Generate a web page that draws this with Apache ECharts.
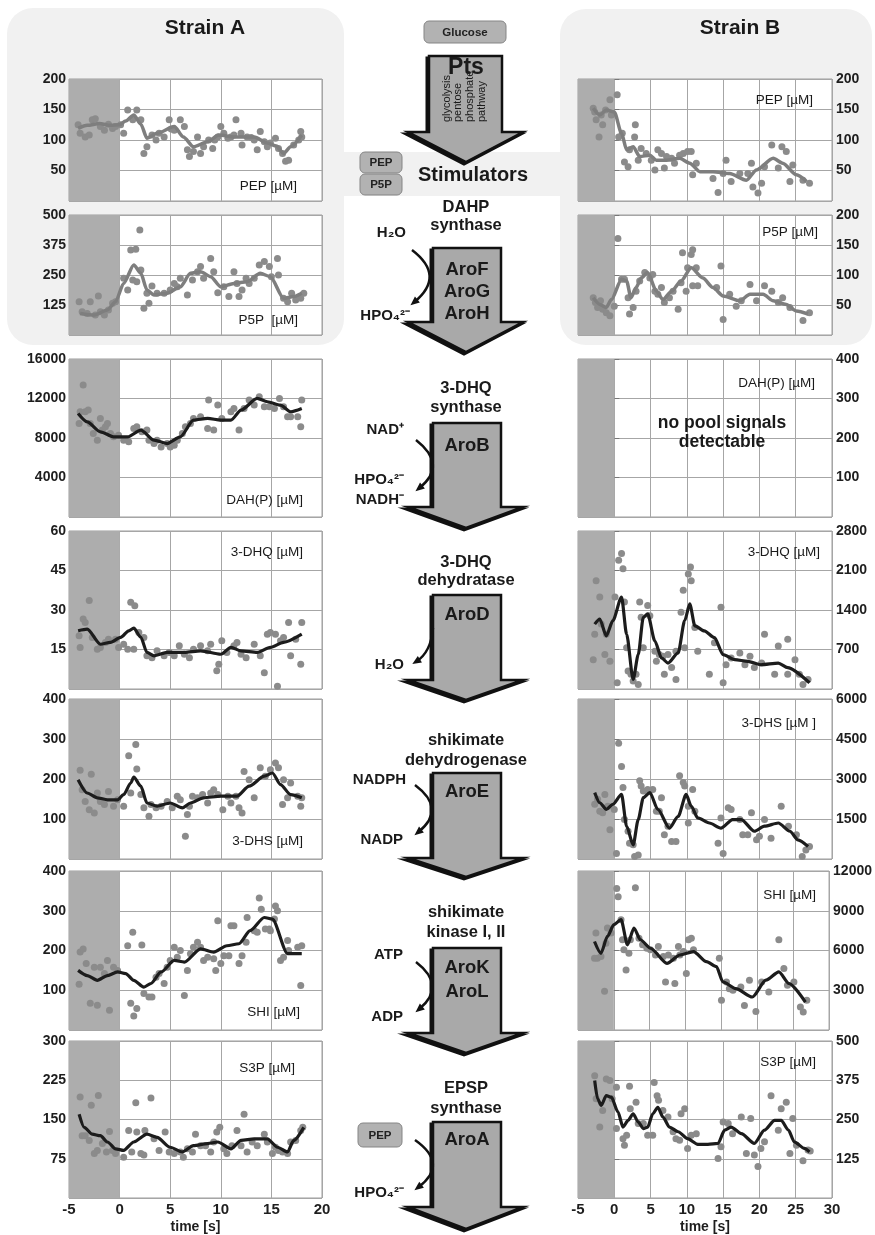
<!DOCTYPE html>
<html>
<head>
<meta charset="utf-8">
<script src="https://cdn.jsdelivr.net/npm/echarts@6/dist/echarts.min.js"></script>
<style>
  html, body { margin: 0; padding: 0; background: #fff; }
  #wrap { position: relative; width: 875px; height: 1235px; overflow: hidden; }
  .panelbg { position: absolute; background: #f1f1f1; }
  #c { position: absolute; left: 0; top: 0; width: 875px; height: 1235px; }
</style>
</head>
<body>
<div id="wrap">
  <div class="panelbg" style="left:7px;top:8px;width:337px;height:337px;border-radius:26px;"></div>
  <div class="panelbg" style="left:560px;top:9px;width:312px;height:336px;border-radius:26px;"></div>
  <div class="panelbg" style="left:340px;top:152px;width:222px;height:44px;"></div>
  <div id="c"></div>
</div>
<script>
// ---------- Strain A: measured points [time s, µM] and smoothed trends ----------
const pepA_pts = [[-4.1,125],[-3.9,111],[-3.4,105],[-3,108],[-2.7,133],[-2.4,135],[-1.9,122],[-1.5,116],[-1.1,126],[-0.7,119],[-0.4,122],[0.1,125],[0.4,111],[0.8,149],[1.3,133],[1.7,149],[2.1,133],[2.4,78],[2.7,89],[3.2,108],[3.6,100],[3.9,111],[4.4,105],[4.9,133],[5.1,118],[5.4,116],[6,133],[6.4,122],[6.7,84],[6.9,73],[7.3,81],[7.7,105],[8,78],[8.3,89],[8.8,100],[9.2,86],[9.4,100],[9.7,105],[10,122],[10.3,111],[10.7,103],[11,105],[11.3,108],[11.5,133],[12,111],[12.1,92],[12.6,105],[13,104],[13.3,100],[13.6,84],[13.9,114],[14.3,97],[14.6,89],[14.9,95],[15.4,103],[15.7,86],[16.1,78],[16.4,65],[16.7,67],[17.2,92],[17.7,100],[17.9,114],[18,105]];
const pepA_fit = [[-4.1,119],[-3.2,124],[-2,127],[-0.9,124],[0,125],[0.6,131],[1.4,141],[2.1,126],[2.7,103],[3.7,111],[5.4,122],[6.3,105],[7.3,89],[8.7,97],[9.8,108],[11.3,105],[13.3,105],[14.6,95],[15.5,90],[16.2,78],[16.9,89],[18,108]];

const p5pA_pts = [[-4,139],[-3.7,97],[-3.2,90],[-2.9,139],[-2.4,83],[-2.1,163],[-1.9,97],[-1.5,83],[-1.1,104],[-0.7,132],[-0.4,139],[0.4,236],[0.8,188],[1.1,354],[1.6,357],[2,437],[1.3,229],[1.7,222],[2.1,271],[2.4,111],[2.9,132],[2.7,174],[3.2,204],[3.7,174],[4.4,174],[5,188],[5.4,215],[5.7,201],[6,236],[6.7,167],[7.2,229],[7.7,264],[8,285],[8.3,236],[9,319],[9.3,264],[9.7,176],[10.3,201],[10.8,160],[11.3,264],[11.6,215],[11.8,160],[12.1,188],[12.5,236],[12.8,215],[13.3,236],[13.8,292],[14.3,306],[14.8,285],[15,243],[15.6,319],[15.7,250],[16.2,153],[16.6,139],[17,174],[17.4,146],[17.9,153],[18.2,174]];
const p5pA_fit = [[-3.9,90],[-2.5,83],[-1.2,104],[-0.4,139],[0.4,215],[1.4,292],[2.1,257],[2.7,188],[3.4,167],[4.7,174],[6,201],[7,257],[8,264],[9,243],[10,201],[11.3,215],[12.6,222],[13.9,257],[14.9,243],[16.2,153],[17.2,160],[18,174]];

const dahA_pts = [[-4,9470],[-3.9,10660],[-3.6,13360],[-3.4,10660],[-3.1,10830],[-2.9,9470],[-2.6,8460],[-2.2,7780],[-1.9,9980],[-1.7,8800],[-1.4,9130],[-1.2,9470],[-0.9,8460],[-0.6,8120],[-0.1,8290],[0.4,7780],[0.9,7610],[1.4,8970],[1.7,9130],[2.2,8630],[2.7,8800],[2.9,7780],[3.4,7440],[3.7,7780],[4.1,7100],[4.7,7440],[5,7100],[5.4,7270],[5.7,7780],[6.2,8460],[6.5,9130],[7,9470],[7.3,9980],[8,10150],[8.7,8970],[8.8,11840],[9.3,8800],[9.7,11330],[10.1,9980],[11,10660],[11.3,10990],[11.8,8800],[12.3,10990],[12.8,11840],[13.3,11330],[13.8,12180],[14.3,11160],[14.8,11160],[15.3,10990],[15.8,12010],[16.2,11160],[16.6,10150],[16.9,10150],[17.6,10150],[17.9,9130],[18,11840]];
const dahA_fit = [[-4.1,10490],[-3.2,9640],[-1.9,8630],[-0.6,8120],[0.8,8120],[2.1,8800],[3.4,7780],[4.7,7440],[6,8120],[7.3,9810],[8.7,9980],[10,9810],[11,9810],[12,10830],[13.6,12010],[14.6,11670],[15.9,11330],[16.9,10660],[18,10990]];

const dhqA_pts = [[-4,20.2],[-3.9,15.8],[-3.6,26.6],[-3.4,25.3],[-3,33.6],[-2.7,19.6],[-2.2,15.1],[-1.9,15.8],[-1.4,17.7],[-1.1,18.9],[-0.4,18.9],[-0.1,15.8],[0.4,17],[0.8,15.1],[1.1,32.9],[1.5,31.6],[1.4,15.1],[1.9,21.5],[2.4,19.6],[2.7,12.6],[3.2,11.9],[3.7,14.5],[4.4,12.6],[4.9,13.9],[5.4,12.6],[5.9,16.4],[6.4,13.2],[6.9,11.9],[7.3,15.1],[8,16.4],[8.7,14.5],[9,17],[9.6,6.9],[9.8,9.4],[10.1,18.3],[10.6,13.9],[11.3,16.4],[11.6,17.7],[12,13.2],[12.5,11.9],[13.3,17],[13.9,12.6],[14.3,6.2],[14.6,20.8],[14.9,21.5],[15.4,20.8],[15.6,1],[15.9,18.3],[16.2,19.6],[16.7,25.3],[16.9,12.6],[17.4,18.9],[17.9,9.4],[18,25.3]];
const dhqA_fit = [[-4.1,22.1],[-3.2,22.7],[-1.9,17],[-0.9,17.7],[0.1,19.6],[0.9,22.1],[1.4,23.1],[2.1,19.6],[2.7,13.9],[3.4,12.6],[4.7,13.9],[6.4,13.9],[8,14.5],[10,13.2],[11,15.8],[12,14.5],[13.6,13.9],[14.9,15.8],[16.2,17.7],[18,20.8]];

const dhsA_pts = [[-3.9,222],[-3.7,173],[-3.4,144],[-3,123],[-2.8,212],[-2.5,115],[-2.2,165],[-1.9,144],[-1.5,136],[-1.1,169],[-0.6,132],[-0.2,148],[0.4,132],[0.9,258],[1.1,165],[1.6,286],[1.7,225],[2.1,161],[2.4,128],[2.9,107],[3.1,136],[3.6,128],[4.1,132],[4.7,144],[5.2,128],[5.7,157],[6,148],[6.5,57],[6.7,111],[6.9,132],[7.2,157],[7.7,153],[8.2,161],[8.7,140],[9,165],[9.3,173],[9.7,161],[10.2,123],[10.7,157],[11,140],[11.5,157],[11.8,128],[12.1,115],[12.3,219],[12.8,198],[13.3,153],[13.9,228],[14.4,207],[14.9,223],[15.4,240],[15.7,228],[16.1,136],[16.2,198],[16.6,153],[16.9,190],[17.6,157],[17.9,132],[18,153]];
const dhsA_fit = [[-4.1,198],[-3.2,165],[-2.2,153],[-1.2,148],[-0.2,148],[0.4,161],[1.1,190],[1.4,205],[2.1,182],[2.7,140],[3.7,132],[5,140],[6.2,128],[7,140],[8.3,153],[10,157],[11.6,157],[12.8,182],[14.3,207],[15.1,215],[15.9,186],[16.9,161],[18,153]];

const shiA_pts = [[-4,115],[-3.9,196],[-3.6,204],[-3.3,167],[-2.9,67],[-2.5,158],[-2.2,62],[-1.9,158],[-1.5,142],[-1.2,175],[-1,50],[-0.6,158],[-0.2,150],[0.8,212],[1.1,67],[1.3,246],[1.4,35],[1.7,54],[2.2,214],[2.4,92],[2.9,83],[3.2,83],[3.6,133],[3.9,142],[4.4,117],[4.7,158],[5,175],[5.4,208],[5.7,183],[6,200],[6.4,87],[6.7,150],[7,192],[7.3,208],[7.7,221],[8,208],[8.3,175],[8.7,183],[9.3,179],[9.5,150],[9.7,275],[10,167],[10.3,187],[10.8,187],[11,262],[11.3,262],[11.8,167],[12.1,187],[12.5,221],[12.6,283],[13.3,250],[13.6,246],[13.8,332],[14,304],[14.4,254],[14.8,254],[14.9,250],[15.3,279],[15.4,312],[15.6,300],[15.9,175],[16.2,183],[16.6,225],[16.7,200],[17.6,208],[17.9,112],[18,212]];
const shiA_fit = [[-4.1,150],[-3.2,137],[-2.2,125],[-1.2,137],[-0.2,146],[0.6,142],[1.4,125],[2.4,108],[3.1,117],[4.1,146],[5.4,175],[6.4,171],[8,204],[9.3,196],[10.6,212],[11.8,217],[12.9,250],[14.3,283],[15.1,279],[16.6,192],[18,192]];

const s3pA_pts = [[-3.9,193],[-3.7,119],[-3.4,119],[-3,110],[-2.8,177],[-2.5,85],[-2.2,91],[-2.1,196],[-1.7,104],[-1.3,88],[-1,127],[-0.7,91],[-0.4,85],[0.4,78],[0.9,129],[1.2,88],[1.6,182],[1.7,126],[2.1,85],[2.4,82],[2.5,129],[3.1,191],[3.4,113],[3.9,91],[4.5,126],[4.9,88],[5.4,85],[6,88],[6.3,78],[6.7,94],[7.2,88],[7.5,122],[8,100],[8.5,100],[9,88],[9.3,107],[9.6,126],[9.9,135],[10.3,94],[10.6,85],[11.1,100],[11.6,129],[12,100],[12.3,160],[12.6,88],[13.1,107],[13.6,100],[14.3,122],[14.6,107],[15.1,85],[15.4,97],[15.7,91],[16.1,88],[16.6,85],[16.9,107],[17.4,110],[17.9,129],[18.1,135]];
const s3pA_fit = [[-4,160],[-3.5,135],[-2.7,122],[-1.9,119],[-1.2,107],[-0.4,94],[0.4,91],[1.4,107],[2.7,122],[3.7,116],[5,97],[6.2,88],[7.3,100],[8.7,104],[9.7,107],[11,94],[12,110],[13.3,113],[14.6,113],[15.6,97],[16.6,88],[17.2,110],[18.2,135]];

// ---------- Strain B ----------
const pepB_pts = [[-2.9,152],[-2.7,146],[-2.5,133],[-2.1,105],[-1.8,141],[-1.6,125],[-1.2,149],[-0.6,166],[-0.4,141],[0.4,174],[0.6,105],[1.1,111],[1.4,64],[1.9,56],[2.1,84],[2.9,125],[2.8,105],[3.3,67],[3.7,86],[4.4,78],[5.1,67],[5.6,51],[6,84],[6.5,78],[6.9,54],[7.2,73],[7.9,70],[8.3,62],[9,75],[9.5,78],[10.1,81],[10.6,81],[10.8,43],[11.3,62],[13.6,37],[14.3,14],[15,45],[15.4,67],[16.1,32],[17.3,45],[18.4,45],[18.9,62],[19.1,23],[19.8,13],[20.3,29],[20.7,56],[21.7,92],[22.6,54],[23.1,89],[23.7,81],[24.2,32],[24.6,59],[26,34],[26.9,29]];
const pepB_fit = [[-2.9,152],[-2,141],[-1.1,149],[0,146],[1,111],[1.7,84],[2.6,89],[3.5,73],[4.9,75],[5.8,67],[7.2,67],[9,70],[10.4,62],[11.8,48],[13.6,48],[15.9,45],[18.2,34],[19.6,51],[21.9,70],[23.2,62],[25.1,43],[26.5,32]];

const p5pB_pts = [[-2.9,62],[-2.6,54],[-2.3,46],[-1.9,57],[-1.6,43],[-1.1,37],[-0.6,32],[0,48],[0.5,161],[1,93],[1.4,93],[1.9,62],[2.1,35],[2.6,46],[3,73],[3.5,90],[4.2,104],[4.9,95],[5.3,101],[5.6,73],[6,68],[6.5,79],[6.9,54],[7.6,62],[8.1,73],[8.8,43],[9.2,87],[9.4,137],[9.9,73],[10.1,112],[10.6,134],[10.8,142],[11.3,112],[10.8,82],[11.5,82],[14.1,79],[14.7,115],[15,26],[15.9,68],[16.8,48],[17.5,57],[18.7,84],[19.6,57],[20.7,82],[21.7,73],[22.6,54],[23.2,62],[24.2,46],[26,24],[26.9,37]];
const p5pB_fit = [[-2.9,62],[-2,51],[-1.1,46],[-0.4,59],[1,93],[1.7,90],[2.3,62],[3,79],[3.7,95],[4.6,104],[5.8,73],[6.7,59],[7.9,73],[9.2,90],[10.6,112],[12.2,95],[13.6,79],[15,65],[17.3,57],[18.7,68],[20.5,68],[21.9,57],[23.7,51],[25.1,40],[26.7,35]];

const dahB_pts = [];
const dahB_fit = [];

const dhqB_pts = [[-2.9,520],[-2.7,970],[-2.5,1920],[-2,1630],[-1.8,1150],[-1.3,610],[-1.1,970],[-0.6,490],[0.1,1630],[0.4,110],[0.6,2280],[1,2400],[1.2,2130],[1.4,1540],[1.7,730],[1.9,320],[2.3,260],[2.6,140],[3,260],[3.3,80],[3.5,1540],[3.7,1270],[4,730],[4.6,1480],[4.9,1300],[5.6,670],[5.8,490],[6.2,610],[6.7,580],[6.9,260],[7.4,610],[7.9,380],[8.5,170],[8.5,670],[9.2,1360],[9.5,1750],[9.7,730],[10.2,2040],[10.5,2160],[10.6,1920],[11.1,1090],[11.5,670],[13.1,260],[13.8,820],[14.7,1450],[15,110],[15.4,430],[16.1,550],[17.3,640],[18,430],[18.7,580],[19.3,380],[20.3,460],[20.7,970],[22.1,260],[22.6,760],[23.9,880],[23.9,260],[24.9,520],[25.5,260],[26,80],[26.7,170]];
const dhqB_fit = [[-2.7,1150],[-2,1240],[-1.1,940],[-0.2,1210],[1,1630],[1.7,970],[2.6,170],[3.3,610],[4,1270],[4.6,1330],[5.6,850],[6.5,550],[7.4,460],[8.8,640],[9.7,1210],[10.4,1510],[11.1,1120],[12.4,1030],[13.8,910],[15,610],[16.6,520],[18.4,490],[20.2,430],[22.6,460],[23.9,380],[26.9,110]];

const dhsB_pts = [[-2.7,2050],[-2.3,2240],[-2,1790],[-1.6,1730],[-1.3,2420],[-0.9,1980],[-0.6,1100],[0,1860],[0.3,210],[0.6,4340],[1,3470],[1.2,2680],[1.4,1480],[1.9,1040],[2.1,590],[2.6,530],[2.8,90],[3.3,150],[3.5,2930],[3.7,2740],[4,2550],[4.6,2610],[5.3,2610],[5.8,1790],[6.2,1790],[6.5,2300],[6.9,910],[7.4,1230],[7.9,660],[8.5,660],[9,3120],[9.5,2870],[9.7,2740],[10.2,1980],[10.2,1350],[10.8,2610],[11.1,1790],[14.3,590],[14.7,1540],[15,210],[15.7,1920],[16.1,1860],[17.3,1480],[17.7,910],[18.4,910],[18.9,1730],[19.6,720],[20,850],[20.7,1480],[21.6,780],[23,1980],[24,1230],[25.1,910],[25.9,90],[26.4,340],[26.9,470]];
const dhsB_fit = [[-2.7,2490],[-2,2110],[-1.1,1860],[-0.2,2050],[1,2420],[1.7,1230],[2.6,530],[3.3,1480],[4,2300],[4.9,2490],[6,1860],[7.6,1160],[8.8,1600],[9.9,2420],[10.6,1980],[11.5,1540],[13.1,1350],[14.7,1160],[16.3,1480],[17.5,1480],[19.3,1040],[20.7,1230],[22.6,1350],[24.2,1040],[25.3,720],[26.7,470]];

const shiB_pts = [[-2.7,5410],[-2.5,7320],[-2.3,5410],[-1.8,5540],[-1.3,2920],[-1.1,6550],[-0.9,7700],[-0.4,7320],[0.4,10670],[0.6,10060],[1,8330],[1.2,6810],[1.4,6050],[1.7,4520],[2.1,5790],[2.3,6810],[3,10740],[3.5,6930],[4,6430],[4.6,6170],[5.1,6050],[5.8,5660],[6.2,6300],[6.9,5540],[7.2,3630],[7.6,5660],[8.3,5410],[8.5,3510],[9,6300],[9.2,5660],[9.7,5920],[10.1,4270],[10.4,6810],[10.8,6930],[11.1,6050],[14.7,5410],[15,2240],[15.7,3630],[16.1,3120],[16.6,3000],[17.7,3250],[18.2,1850],[18.9,3760],[19.8,1400],[20.6,3630],[21.6,2870],[23,6810],[23.7,4650],[24.2,3380],[25.1,3630],[26,1730],[26.4,1350],[26.9,2240]];
const shiB_fit = [[-2.7,6680],[-1.8,5790],[-0.9,7060],[0,7950],[1,8330],[1.9,6430],[2.8,7700],[3.7,6810],[5.1,6170],[7.4,5030],[9.2,5660],[11.1,5920],[12.9,5160],[14.3,4780],[15.2,3630],[17,3120],[19.3,2490],[21.2,3760],[23,4390],[24.4,3510],[26.7,2110]];

const s3pB_pts = [[-2.7,389],[-2.5,316],[-2,226],[-1.6,279],[-1.1,379],[-0.6,374],[-0.3,316],[0.3,353],[0.3,221],[1.2,189],[1.4,168],[1.7,200],[2.1,356],[2.2,284],[3,305],[3.3,237],[4,237],[4.6,200],[5.3,200],[5.5,368],[5.9,326],[6.1,311],[6.7,279],[7.4,258],[8.1,211],[8.5,189],[9,184],[9.2,268],[9.7,284],[10.1,158],[10.6,200],[11.3,205],[14.3,126],[14.7,163],[15,242],[15.7,237],[16.3,205],[17.5,258],[18.2,142],[18.8,253],[19.3,137],[19.8,100],[20.2,158],[20.7,179],[21.6,326],[22.6,216],[23,284],[23.7,305],[24.2,142],[24.6,253],[25.1,168],[26,119],[26.7,153],[27,150]];
const s3pB_fit = [[-2.7,374],[-2.3,316],[-1.8,295],[-1.1,326],[-0.4,321],[0.5,274],[1.2,226],[1.9,247],[2.6,268],[3.3,242],[4,221],[4.6,226],[5.3,268],[6,289],[6.7,258],[7.6,226],[8.8,211],[10.1,189],[11.5,171],[12.9,171],[14.3,174],[15.2,216],[16.1,226],[17.5,205],[19.3,174],[20.7,216],[22.1,247],[23,247],[24,216],[24.8,179],[26.2,158],[26.9,147]];

// ---------- axis scales ----------
const metabolites  = ['PEP', 'P5P', 'DAH(P)', '3-DHQ', '3-DHS', 'SHI', 'S3P'];
const labelsA      = ['PEP [µM]', 'P5P  [µM]', 'DAH(P) [µM]', '3-DHQ [µM]', '3-DHS [µM]', 'SHI [µM]', 'S3P [µM]'];
const labelsB      = ['PEP [µM]', 'P5P [µM]', 'DAH(P) [µM]', '3-DHQ [µM]', '3-DHS [µM ]', 'SHI [µM]', 'S3P [µM]'];
const yMaxA        = [200, 500, 16000, 60, 400, 400, 300];
const yStepA       = [50, 125, 4000, 15, 100, 100, 75];
const yMaxB        = [200, 200, 400, 2800, 6000, 12000, 500];
const yStepB       = [50, 50, 100, 700, 1500, 3000, 125];
const timeA        = [-5, 20, 5];
const timeB        = [-5, 30, 5];
const pointsA = [pepA_pts, p5pA_pts, dahA_pts, dhqA_pts, dhsA_pts, shiA_pts, s3pA_pts];
const fitsA   = [pepA_fit, p5pA_fit, dahA_fit, dhqA_fit, dhsA_fit, shiA_fit, s3pA_fit];
const pointsB = [pepB_pts, p5pB_pts, dahB_pts, dhqB_pts, dhsB_pts, shiB_pts, s3pB_pts];
const fitsB   = [pepB_fit, p5pB_fit, dahB_fit, dhqB_fit, dhsB_fit, shiB_fit, s3pB_fit];

// ---------- layout ----------
const FONT = 'Liberation Sans, Arial, sans-serif';
const rowTop = [79, 215, 359, 531, 699, 871, 1041];
const rowH   = [122, 120, 158, 158, 160, 159, 159];
const colLeft = [69, 578];
const colW    = [253, 254];
const labelPosA = [[297,186],[298,320],[303,500],[303,552],[303,841],[300,1012],[295,1068]];
const labelPosB = [[813,100],[818,232],[815,383],[820,552],[816,723],[816,895],[816,1062]];

const DOT = '#8b8b8b';
const SHADE = '#adadad';

const grids = [], xAxes = [], yAxes = [], series = [], graphics = [];

function plainNumber(v) { return String(v); }

function addPanel(col, row) {
  const idx = grids.length;
  const isB = col === 1;
  const last = row === 6;
  const t = isB ? timeB : timeA;
  grids.push({
    left: colLeft[col], top: rowTop[row], width: colW[col], height: rowH[row],
    show: true, backgroundColor: '#ffffff', borderColor: '#9c9c9c', borderWidth: 1
  });
  xAxes.push({
    type: 'value', gridIndex: idx, min: t[0], max: t[1], interval: t[2],
    axisLine: { show: false }, axisTick: { show: false },
    splitLine: { show: true, lineStyle: { color: '#a6a6a6', width: 1 } },
    axisLabel: { show: last, formatter: plainNumber, fontFamily: FONT, fontSize: 15, fontWeight: 'bold', color: '#1e1e1e', margin: 4 },
    name: last ? 'time [s]' : '', nameLocation: 'middle', nameGap: 22,
    nameTextStyle: { fontFamily: FONT, fontSize: 14, fontWeight: 'bold', color: '#1e1e1e' }
  });
  yAxes.push({
    type: 'value', gridIndex: idx, position: isB ? 'right' : 'left',
    min: 0, max: isB ? yMaxB[row] : yMaxA[row], interval: isB ? yStepB[row] : yStepA[row],
    axisLine: { show: false },
    axisTick: { show: isB, length: 5, lineStyle: { color: '#777' } },
    splitLine: { show: true, lineStyle: { color: '#a6a6a6', width: 1 } },
    axisLabel: { showMinLabel: false, formatter: plainNumber, fontFamily: FONT, fontSize: 14, fontWeight: 'bold',
                 color: '#1e1e1e', margin: isB ? 4 : 3 }
  });
  const pts = isB ? pointsB[row] : pointsA[row];
  const fit = isB ? fitsB[row] : fitsA[row];
  series.push({
    type: 'scatter', name: metabolites[row] + (isB ? ' B' : ' A'),
    xAxisIndex: idx, yAxisIndex: idx, data: pts,
    symbolSize: 7, itemStyle: { color: DOT, opacity: 1 }, z: 3,
    markArea: { silent: true, itemStyle: { color: SHADE, opacity: 1 },
                data: [[{ xAxis: t[0] }, { xAxis: 0 }]] }
  });
  if (fit.length) {
    series.push({
      type: 'line', xAxisIndex: idx, yAxisIndex: idx, data: fit,
      smooth: 0.25, smoothMonotone: 'x', showSymbol: false, z: 4,
      lineStyle: { color: row < 2 ? '#7e7e7e' : '#1c1c1c', width: row < 2 ? 3.5 : 3.2 }
    });
  }
  const lp = isB ? labelPosB[row] : labelPosA[row];
  graphics.push(text(lp[0], lp[1], isB ? labelsB[row] : labelsA[row], 13.5, 'right', 'normal'));
}

function text(x, y, str, size, align, weight, color) {
  return {
    type: 'text', x: x, y: y, z: 50,
    style: { text: str, fontSize: size, fontFamily: FONT, fontWeight: weight || 'bold',
             fill: color || '#1a1a1a', align: align || 'center', verticalAlign: 'middle',
             textAlign: align || 'center', textVerticalAlign: 'middle' }
  };
}

for (let r = 0; r < 7; r++) { addPanel(0, r); addPanel(1, r); }

// ---------- pathway drawing in the middle column ----------
const AX = 466;
function bigArrow(top, head, tip, l, r) {
  l = l || 433; r = r || 501;
  const pts = [[l, top], [r, top], [r, head], [523, head], [AX, tip], [408, head], [l, head]];
  // dark offset copy gives the bevelled edge on the left and lower side
  const shadow = pts.map(function (p) { return [p[0] - 2, p[1] + 2]; });
  return [
    { type: 'polygon', z: 19, shape: { points: shadow },
      style: { fill: '#111', stroke: '#111', lineWidth: 3, lineJoin: 'miter' } },
    { type: 'polygon', z: 20, shape: { points: pts },
      style: { fill: '#a9a9a9', stroke: '#111', lineWidth: 2.5, lineJoin: 'miter' } }
  ];
}
function curved(x1, y1, cx, cy, x2, y2) {
  const dx = x2 - cx, dy = y2 - cy, L = Math.hypot(dx, dy), ux = dx / L, uy = dy / L;
  const px = -uy, py = ux, s = 7;
  return [
    { type: 'bezierCurve', z: 25, shape: { x1: x1, y1: y1, x2: x2 - ux * 3, y2: y2 - uy * 3, cpx1: cx, cpy1: cy },
      style: { stroke: '#111', lineWidth: 2.5, fill: null } },
    { type: 'polygon', z: 25,
      shape: { points: [[x2 + ux * 2, y2 + uy * 2], [x2 - ux * s + px * s * 0.55, y2 - uy * s + py * s * 0.55],
                        [x2 - ux * s - px * s * 0.55, y2 - uy * s - py * s * 0.55]] },
      style: { fill: '#111' } }
  ];
}
function tag(x, y, w, h, str) {
  return [
    { type: 'rect', z: 20, shape: { x: x, y: y, width: w, height: h, r: 5 },
      style: { fill: '#b2b2b2', stroke: '#858585', lineWidth: 1 } },
    text(x + w / 2, y + h / 2 + 0.5, str, 11.5, 'center', 'bold', '#222')
  ];
}

graphics.push(text(205, 28, 'Strain A', 21));
graphics.push(text(740, 28, 'Strain B', 21));

graphics.push(...tag(424, 21, 82, 22, 'Glucose'));
graphics.push(...bigArrow(56, 132, 162, 429, 502));
graphics.push(text(AX, 68, 'Pts', 23));
[['glycolysis', 447], ['pentose', 458], ['phosphate', 470], ['pathway', 482]].forEach(function (p) {
  graphics.push({ type: 'text', x: p[1], y: 122, rotation: Math.PI / 2, z: 30,
    style: { text: p[0], fontSize: 11, fontFamily: FONT, fill: '#1a1a1a',
             align: 'left', verticalAlign: 'middle', textAlign: 'left', textVerticalAlign: 'middle' } });
});
graphics.push(...tag(360, 152, 42, 21, 'PEP'));
graphics.push(...tag(360, 174, 42, 21, 'P5P'));
graphics.push(text(473, 175, 'Stimulators', 20));

// DAHP synthase
graphics.push(text(AX, 207, 'DAHP', 16.5), text(AX, 225, 'synthase', 16.5));
graphics.push(...bigArrow(248, 322, 352));
graphics.push(text(467, 270, 'AroF', 18.5), text(467, 292, 'AroG', 18.5), text(467, 314, 'AroH', 18.5));
graphics.push(...curved(412, 250, 446, 276, 412, 304));
graphics.push(text(406, 233, 'H₂O', 15, 'right'));
graphics.push(text(410, 316, 'HPO₄²⁻', 15, 'right'));

// 3-DHQ synthase
graphics.push(text(AX, 388, '3-DHQ', 16.5), text(AX, 407, 'synthase', 16.5));
graphics.push(...bigArrow(423, 507, 528));
graphics.push(text(467, 446, 'AroB', 18.5));
graphics.push(...curved(416, 440, 448, 465, 417, 490));
graphics.push(text(404, 430, 'NAD⁺', 15, 'right'));
graphics.push(text(404, 480, 'HPO₄²⁻', 15, 'right'));
graphics.push(text(404, 500, 'NADH⁻', 15, 'right'));

// 3-DHQ dehydratase
graphics.push(text(AX, 562, '3-DHQ', 16.5), text(AX, 580, 'dehydratase', 16.5));
graphics.push(...bigArrow(595, 680, 700));
graphics.push(text(467, 615, 'AroD', 18.5));
graphics.push(...curved(433, 628, 431, 652, 414, 663));
graphics.push(text(404, 665, 'H₂O', 15, 'right'));

// shikimate dehydrogenase
graphics.push(text(AX, 740, 'shikimate', 16.5), text(AX, 760, 'dehydrogenase', 16.5));
graphics.push(...bigArrow(773, 858, 877));
graphics.push(text(467, 792, 'AroE', 18.5));
graphics.push(...curved(415, 785, 447, 809, 416, 834));
graphics.push(text(406, 780, 'NADPH', 15, 'right'));
graphics.push(text(403, 840, 'NADP', 15, 'right'));

// shikimate kinase
graphics.push(text(AX, 912, 'shikimate', 16.5), text(AX, 932, 'kinase I, II', 16.5));
graphics.push(...bigArrow(948, 1033, 1053));
graphics.push(text(467, 968, 'AroK', 18.5), text(467, 992, 'AroL', 18.5));
graphics.push(...curved(416, 962, 447, 986, 417, 1011));
graphics.push(text(403, 955, 'ATP', 15, 'right'));
graphics.push(text(403, 1017, 'ADP', 15, 'right'));

// EPSP synthase
graphics.push(text(AX, 1088, 'EPSP', 16.5), text(AX, 1108, 'synthase', 16.5));
graphics.push(...bigArrow(1122, 1207, 1229));
graphics.push(text(467, 1140, 'AroA', 18.5));
graphics.push(...curved(415, 1140, 449, 1164, 416, 1189));
graphics.push(...tag(358, 1123, 44, 24, 'PEP'));
graphics.push(text(404, 1193, 'HPO₄²⁻', 15, 'right'));

// empty DAH(P) pool in strain B
graphics.push(text(722, 423, 'no pool signals', 17.5), text(722, 442, 'detectable', 17.5));

const chart = echarts.init(document.getElementById('c'), null, { renderer: 'canvas' });
chart.setOption({
  animation: false,
  backgroundColor: 'transparent',
  grid: grids, xAxis: xAxes, yAxis: yAxes, series: series,
  graphic: { elements: graphics }
});
</script>
</body>
</html>
